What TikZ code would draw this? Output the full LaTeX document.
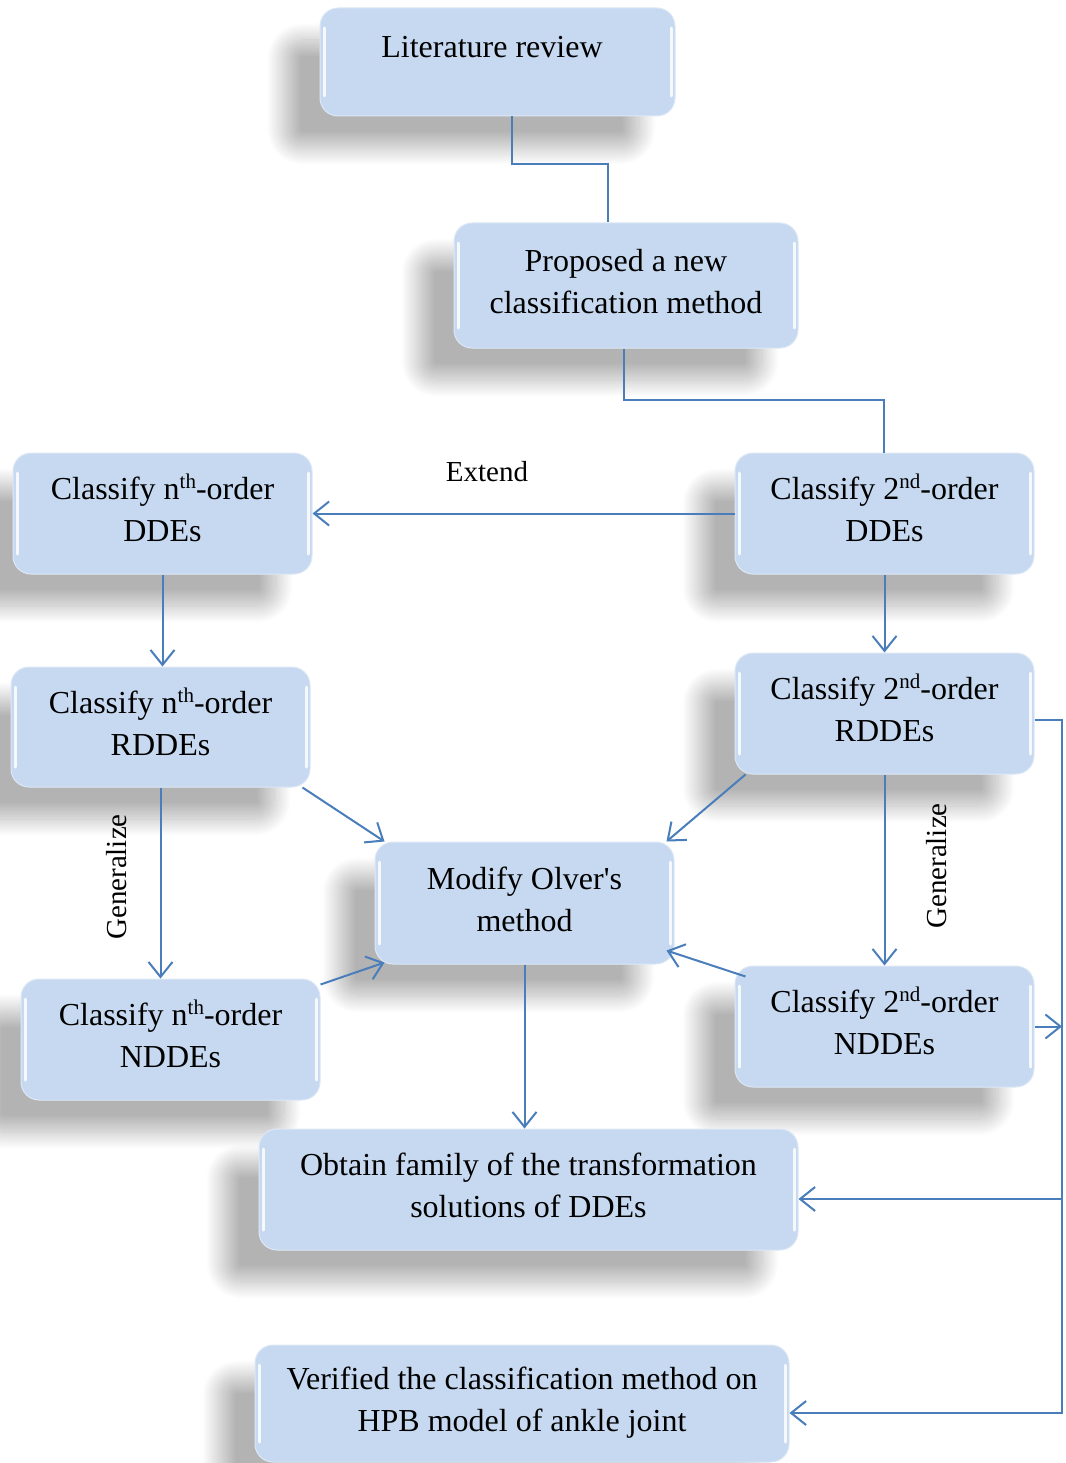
\documentclass[tikz,border=0pt]{standalone}
\usepackage{fontspec}
\setmainfont{Liberation Serif}
\usetikzlibrary{arrows.meta,shadows.blur}
\definecolor{boxblue}{HTML}{C6D9F0}
\definecolor{lineblue}{HTML}{4A7EBB}
\newcommand\supr[1]{\raisebox{11pt}[0pt][0pt]{\fontsize{21pt}{21pt}\selectfont #1}}
\newcommand\dd{\rule[-8pt]{0pt}{8pt}}
\begin{document}
\begin{tikzpicture}[x=1pt,y=-1pt,
  box/.style={rectangle, rounded corners=18pt, fill=boxblue, draw=boxblue!60!white, line width=1pt,
    align=center, inner sep=0pt, font=\fontsize{32pt}{42pt}\selectfont,
    blur shadow={shadow xshift=-36pt, shadow yshift=-32pt, shadow blur radius=17pt, shadow opacity=30, shadow blur steps=30},
    path picture={
      \draw[white, opacity=0.85, line width=3pt, line cap=round]
        ([xshift=4pt,yshift=-20pt]path picture bounding box.north west) -- ([xshift=4pt,yshift=20pt]path picture bounding box.south west);
      \draw[white, opacity=0.85, line width=3pt, line cap=round]
        ([xshift=-4pt,yshift=-20pt]path picture bounding box.north east) -- ([xshift=-4pt,yshift=20pt]path picture bounding box.south east);
    }},
  conn/.style={draw=lineblue, line width=2pt},
  arr/.style={conn, -{Straight Barb[length=15pt,width=24pt]}},
  lbl/.style={font=\fontsize{29pt}{34pt}\selectfont, inner sep=0pt}
]
\useasboundingbox (0,0) rectangle (1065,1463);

% boxes
\node[box, minimum width=355pt, minimum height=108pt] (lit) at (497.5,62) {};
\node[font=\fontsize{32pt}{42pt}\selectfont, inner sep=0pt] (litt) at (492,47) {Literature review};
\node[box, minimum width=344pt, minimum height=125pt] (prop) at (626,285.5) {Proposed a new\\classification method\dd};
\node[box, minimum width=299pt, minimum height=121pt] (nd) at (162.5,513.5) {Classify n\supr{th}-order\\DDEs\dd};
\node[box, minimum width=299pt, minimum height=121pt] (sd) at (884.5,513.5) {Classify 2\supr{nd}-order\\DDEs\dd};
\node[box, minimum width=299pt, minimum height=120pt] (nr) at (160.5,727) {Classify n\supr{th}-order\\RDDEs\dd};
\node[box, minimum width=299pt, minimum height=121pt] (sr) at (884.5,713.5) {Classify 2\supr{nd}-order\\RDDEs\dd};
\node[box, minimum width=299pt, minimum height=122pt] (mo) at (524.5,903) {Modify Olver\textquotesingle s\\method\dd};
\node[box, minimum width=299pt, minimum height=121pt] (nn) at (170.5,1039.5) {Classify n\supr{th}-order\\NDDEs\dd};
\node[box, minimum width=299pt, minimum height=121pt] (sn) at (884.5,1026.5) {Classify 2\supr{nd}-order\\NDDEs\dd};
\node[box, minimum width=539pt, minimum height=121pt] (ob) at (528.5,1189.5) {Obtain family of the transformation\\solutions of DDEs\dd};
\node[box, minimum width=534pt, minimum height=117pt] (ve) at (522,1403.5) {Verified the classification method on\\HPB model of ankle joint\dd};

% bends
\coordinate (b1) at (512,164);
\coordinate (b2) at (608,164);
\coordinate (b3) at (624,400);
\coordinate (b4) at (884,400);
\coordinate (r1) at (1062,720);
\coordinate (r2) at (1062,1413);
\coordinate (r3) at (1062,1199);

% connectors
\draw[conn] (lit.south -| b1) -- (b1) -- (b2) -- (prop.north -| b2);
\draw[conn] (prop.south -| b3) -- (b3) -- (b4) -- (sd.north -| b4);
\draw[arr] (sd.west) -- (nd.east);
\node[lbl] (ext) at (487,472) {Extend};
\draw[arr] (nd.south) -- (nd.south |- nr.north);
\draw[arr] (sd.south) -- (sd.south |- sr.north);
\draw[arr] (nr.south) -- (nr.south |- nn.north);
\node[lbl, rotate=90] (gen1) at (117,877) {Generalize};
\draw[arr] (sr.south) -- (sr.south |- sn.north);
\node[lbl, rotate=90] (gen2) at (937,866) {Generalize};
\draw[arr] ([xshift=-8pt]nr.south east) -- ([xshift=10pt]mo.north west);
\draw[arr] ([xshift=11pt]sr.south west) -- ([xshift=-8pt]mo.north east);
\draw[arr] ([yshift=-6pt]nn.north east) -- ([xshift=10pt,yshift=2pt]mo.south west);
\draw[arr] ([xshift=11pt,yshift=-11pt]sn.north west) -- ([xshift=-8pt,yshift=14pt]mo.south east);
\draw[arr] (mo.south) -- (mo.south |- ob.north);
\draw[arr] (r1 -| sr.east) -- (r1) -- (r2) -- (r2 -| ve.east);
\draw[arr] (sn.east) -- (sn.east -| r1);
\draw[arr] (r3) -- (r3 -| ob.east);
\end{tikzpicture}
\end{document}
